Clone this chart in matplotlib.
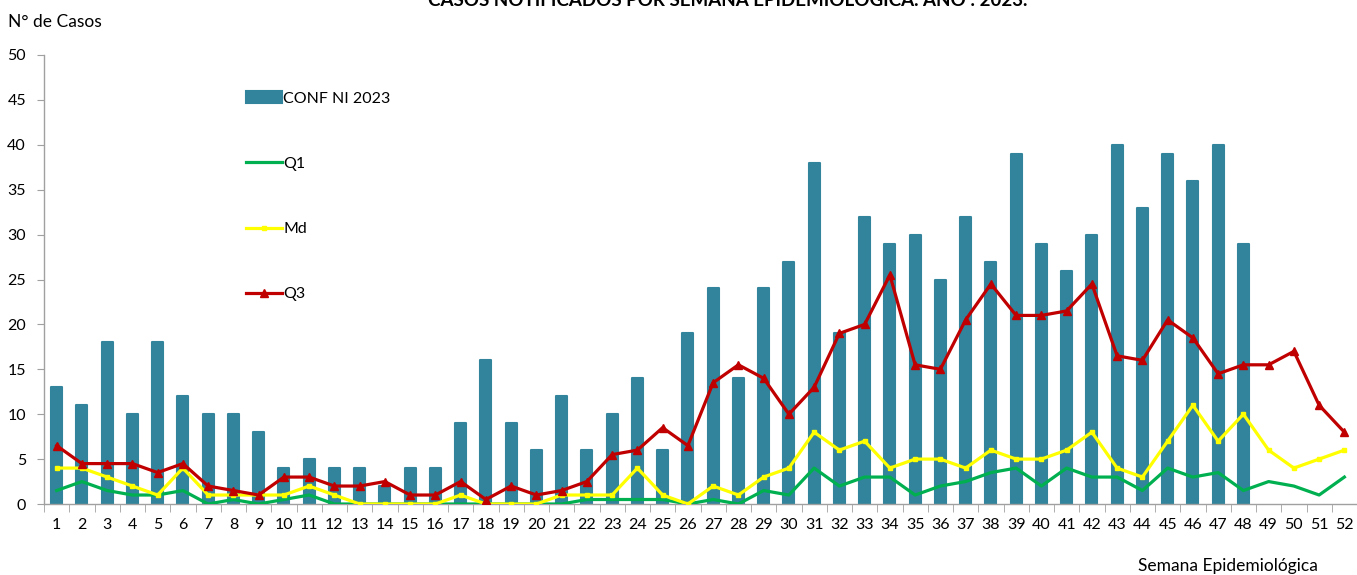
import matplotlib
matplotlib.use("Agg")
import matplotlib.pyplot as plt
from matplotlib.ticker import FixedLocator

plt.rcParams['font.family'] = ['Lato', 'DejaVu Sans']

weeks = list(range(1, 53))
conf_2023 = [13, 11, 18, 10, 18, 12, 10, 10, 8, 4, 5, 4, 4, 2, 4, 4, 9, 16, 9, 6,
             12, 6, 10, 14, 6, 19, 24, 14, 24, 27, 38, 19, 32, 29, 30, 25, 32, 27, 39, 29,
             26, 30, 40, 33, 39, 36, 40, 29]
q1 = [1.5, 2.5, 1.5, 1, 1, 1.5, 0, 0.5, 0, 0.5, 1, 0, 0, 0, 0, 0, 0, 0, 0, 0,
      0, 0.5, 0.5, 0.5, 0.5, 0, 0.5, 0, 1.5, 1, 4, 2, 3, 3, 1, 2, 2.5, 3.5, 4, 2,
      4, 3, 3, 1.5, 4, 3, 3.5, 1.5, 2.5, 2, 1, 3]
md = [4, 4, 3, 2, 1, 4, 1, 1, 1, 1, 2, 1, 0, 0, 0, 0, 1, 0, 0, 0,
      1, 1, 1, 4, 1, 0, 2, 1, 3, 4, 8, 6, 7, 4, 5, 5, 4, 6, 5, 5,
      6, 8, 4, 3, 7, 11, 7, 10, 6, 4, 5, 6]
q3 = [6.5, 4.5, 4.5, 4.5, 3.5, 4.5, 2, 1.5, 1, 3, 3, 2, 2, 2.5, 1, 1, 2.5, 0.5, 2, 1,
      1.5, 2.5, 5.5, 6, 8.5, 6.5, 13.5, 15.5, 14, 10, 13, 19, 20, 25.5, 15.5, 15, 20.5, 24.5, 21, 21,
      21.5, 24.5, 16.5, 16, 20.5, 18.5, 14.5, 15.5, 15.5, 17, 11, 8]
y_ticks = list(range(0, 55, 5))

title = "CASOS NOTIFICADOS POR SEMANA EPIDEMIOLOGICA. AÑO : 2023."

fig = plt.figure(figsize=(13.57, 5.75), dpi=100)
ax = fig.add_axes([44/1357, 1 - 504/575, 1 - 44/1357, (504 - 55)/575])

bar_color = '#31849B'
hb = ax.bar(weeks[:len(conf_2023)], conf_2023, width=0.44, color=bar_color,
            edgecolor=bar_color, linewidth=1.5, joinstyle='round',
            label='CONF NI 2023', zorder=2)
h1, = ax.plot(weeks, q1, color='#00B050', lw=2.3, label='Q1', zorder=3)
h2, = ax.plot(weeks, md, color='#FFFF00', lw=2.3, marker='s', markersize=3,
              label='Md', zorder=4)
h3, = ax.plot(weeks, q3, color='#C00000', lw=2.3, marker='^', markersize=6,
              label='Q3', zorder=5)

ax.set_xlim(0.5, 52.5)
ax.set_ylim(0, 50)
ax.set_yticks(y_ticks)
ax.set_xticks(weeks)
ax.set_xticklabels([str(w) for w in weeks])
ax.xaxis.set_minor_locator(FixedLocator([w + 0.5 for w in range(0, 53)]))
ax.tick_params(axis='x', which='major', length=0, pad=10, labelsize=11.5)
ax.tick_params(axis='x', which='minor', length=6, color='#A0A0A0', direction='out')
ax.tick_params(axis='y', length=5, color='#A0A0A0', labelsize=11.5, pad=8)

for s in ['top', 'right']:
    ax.spines[s].set_visible(False)
for s in ['left', 'bottom']:
    ax.spines[s].set_color('#A0A0A0')
    ax.spines[s].set_linewidth(1)

leg = ax.legend(handles=[hb, h1, h2, h3], loc='upper left',
                bbox_to_anchor=(188/1313, 1 - 22/449),
                frameon=False, labelspacing=3.2, handlelength=2.2,
                handletextpad=0.1, fontsize=11.5)

fig.text(8/1357, 1 - 22/575, 'N° de Casos', fontsize=12.5, va='center', ha='left')
fig.text(1318/1357, 1 - 566/575, 'Semana Epidemiológica', fontsize=12.5,
         va='center', ha='right')
fig.text(728/1357, 1 - 6/575, title, fontsize=13.5, fontweight='bold',
         ha='center', va='baseline')

fig.savefig('out.png', dpi=100)
